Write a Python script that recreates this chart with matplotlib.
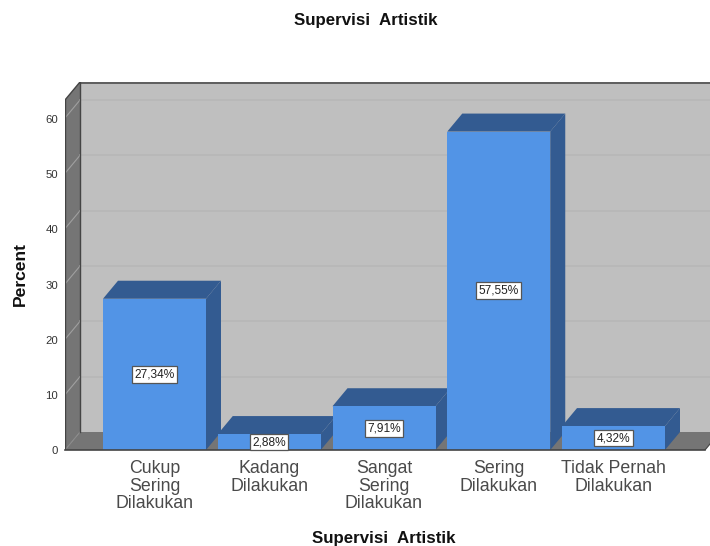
import matplotlib
matplotlib.use("Agg")
import matplotlib.pyplot as plt
from matplotlib.patches import Polygon

plt.rcParams['font.family'] = ['Liberation Sans', 'DejaVu Sans']

categories = ["Cukup\nSering\nDilakukan", "Kadang\nDilakukan", "Sangat\nSering\nDilakukan",
              "Sering\nDilakukan", "Tidak Pernah\nDilakukan"]
percents = [27.34, 2.88, 7.91, 57.55, 4.32]
value_labels = ["27,34%", "2,88%", "7,91%", "57,55%", "4,32%"]
y_ticks = [0, 10, 20, 30, 40, 50, 60]

W, H = 710, 546
fig = plt.figure(figsize=(W / 100, H / 100), dpi=100, facecolor="white")
L, R, B, T = 65, 710, 450, 82
ax = fig.add_axes([L / W, 1 - B / H, (R - L) / W, (B - T) / H])
px_x = 114.75
px_y = 5.533
ax.set_xlim((L - 154.5) / px_x, (R - 154.5) / px_x)
ax.set_ylim(0, (B - T) / px_y)
ax.axis("off")
dx = 15 / px_x
dy = 18 / px_y
bw = 103 / px_x
x0 = ax.get_xlim()[0]
x1 = ax.get_xlim()[1]
ymax = ax.get_ylim()[1]
front_r = (705 - 154.5) / px_x

# walls and floor
ax.add_patch(Polygon([(x0 + dx, dy), (x1 + dx, dy), (x1 + dx, ymax), (x0 + dx, ymax)],
                     fc="#bfbfbf", ec="none", zorder=1))
ax.add_patch(Polygon([(x0, 0), (x0 + dx, dy), (x0 + dx, ymax), (x0, ymax - dy)],
                     fc="#757575", ec="none", zorder=2))
ax.add_patch(Polygon([(x0, 0), (front_r, 0), (front_r + dx, dy), (x0 + dx, dy)],
                     fc="#757575", ec="none", zorder=2))
for t in y_ticks[1:]:
    ax.plot([x0 + dx, x1 + dx], [t + dy, t + dy], color="#b6b6b6", lw=1.1, zorder=3)
for t in y_ticks[1:]:
    ax.plot([x0, x0 + dx], [t, t + dy], color="#a0a0a0", lw=0.8, zorder=3)
ax.plot([x0, x0 + dx], [0, dy], color="#8a8a8a", lw=0.8, zorder=3)

# edges
edge = "#444444"
ax.plot([x0 + dx, x1 + dx], [ymax - 0.1, ymax - 0.1], color=edge, lw=1.1, zorder=4, clip_on=False)
ax.plot([x0 + dx, x0 + dx], [dy, ymax], color=edge, lw=1.0, zorder=4)
ax.plot([x0 + 0.002, x0 + 0.002], [0, ymax - dy], color=edge, lw=1.0, zorder=4)
ax.plot([x0, x0 + dx], [ymax - dy, ymax], color=edge, lw=1.0, zorder=4)
ax.plot([front_r, front_r + dx], [0, dy], color=edge, lw=0.8, zorder=4)

# bars
front = "#5294e6"
dark = "#335b91"
for i, v in enumerate(percents):
    l, r = i - bw / 2, i + bw / 2
    z = 5 + i
    ax.add_patch(Polygon([(r, 0), (r + dx, dy), (r + dx, v + dy), (r, v)], fc=dark, ec="none", zorder=z))
    ax.add_patch(Polygon([(l, v), (r, v), (r + dx, v + dy), (l + dx, v + dy)], fc=dark, ec="none", zorder=z))
    ax.add_patch(Polygon([(l, 0), (r, 0), (r, v), (l, v)], fc=front, ec="none", zorder=z))

ax.plot([x0, front_r], [0, 0], color="#444444", lw=1.2, zorder=12, clip_on=False)

for i, (v, s) in enumerate(zip(percents, value_labels)):
    ax.text(i, v / 2, s, ha="center", va="center", fontsize=8.6, color="#222222", zorder=20,
            bbox=dict(boxstyle="square,pad=0.2", fc="white", ec="#555555", lw=0.9), clip_on=False)

# tick labels
for t in y_ticks:
    ax.annotate(str(t), xy=(x0, t), xytext=(-7, -1.5), textcoords="offset pixels", ha="right", va="center",
                fontsize=8.2, color="#333333", annotation_clip=False)

for i, s in enumerate(categories):
    ax.annotate(s, xy=(i, 0), xytext=(0, -10), textcoords="offset pixels", ha="center", va="top",
                fontsize=12.8, color="#4a4a4a", linespacing=1.04, annotation_clip=False)

fig.text(366 / W, 1 - 20 / H, "Supervisi  Artistik", ha="center", va="center", fontsize=12.2,
         fontweight="bold", color="#111111")
fig.text(384 / W, 1 - 538 / H, "Supervisi  Artistik", ha="center", va="center", fontsize=12.2,
         fontweight="bold", color="#111111")
fig.text(20 / W, 1 - 274 / H, "Percent", ha="center", va="center", rotation=90, fontsize=12.6,
         fontweight="bold", color="#111111")

fig.savefig("out.png", dpi=100, facecolor="white")
